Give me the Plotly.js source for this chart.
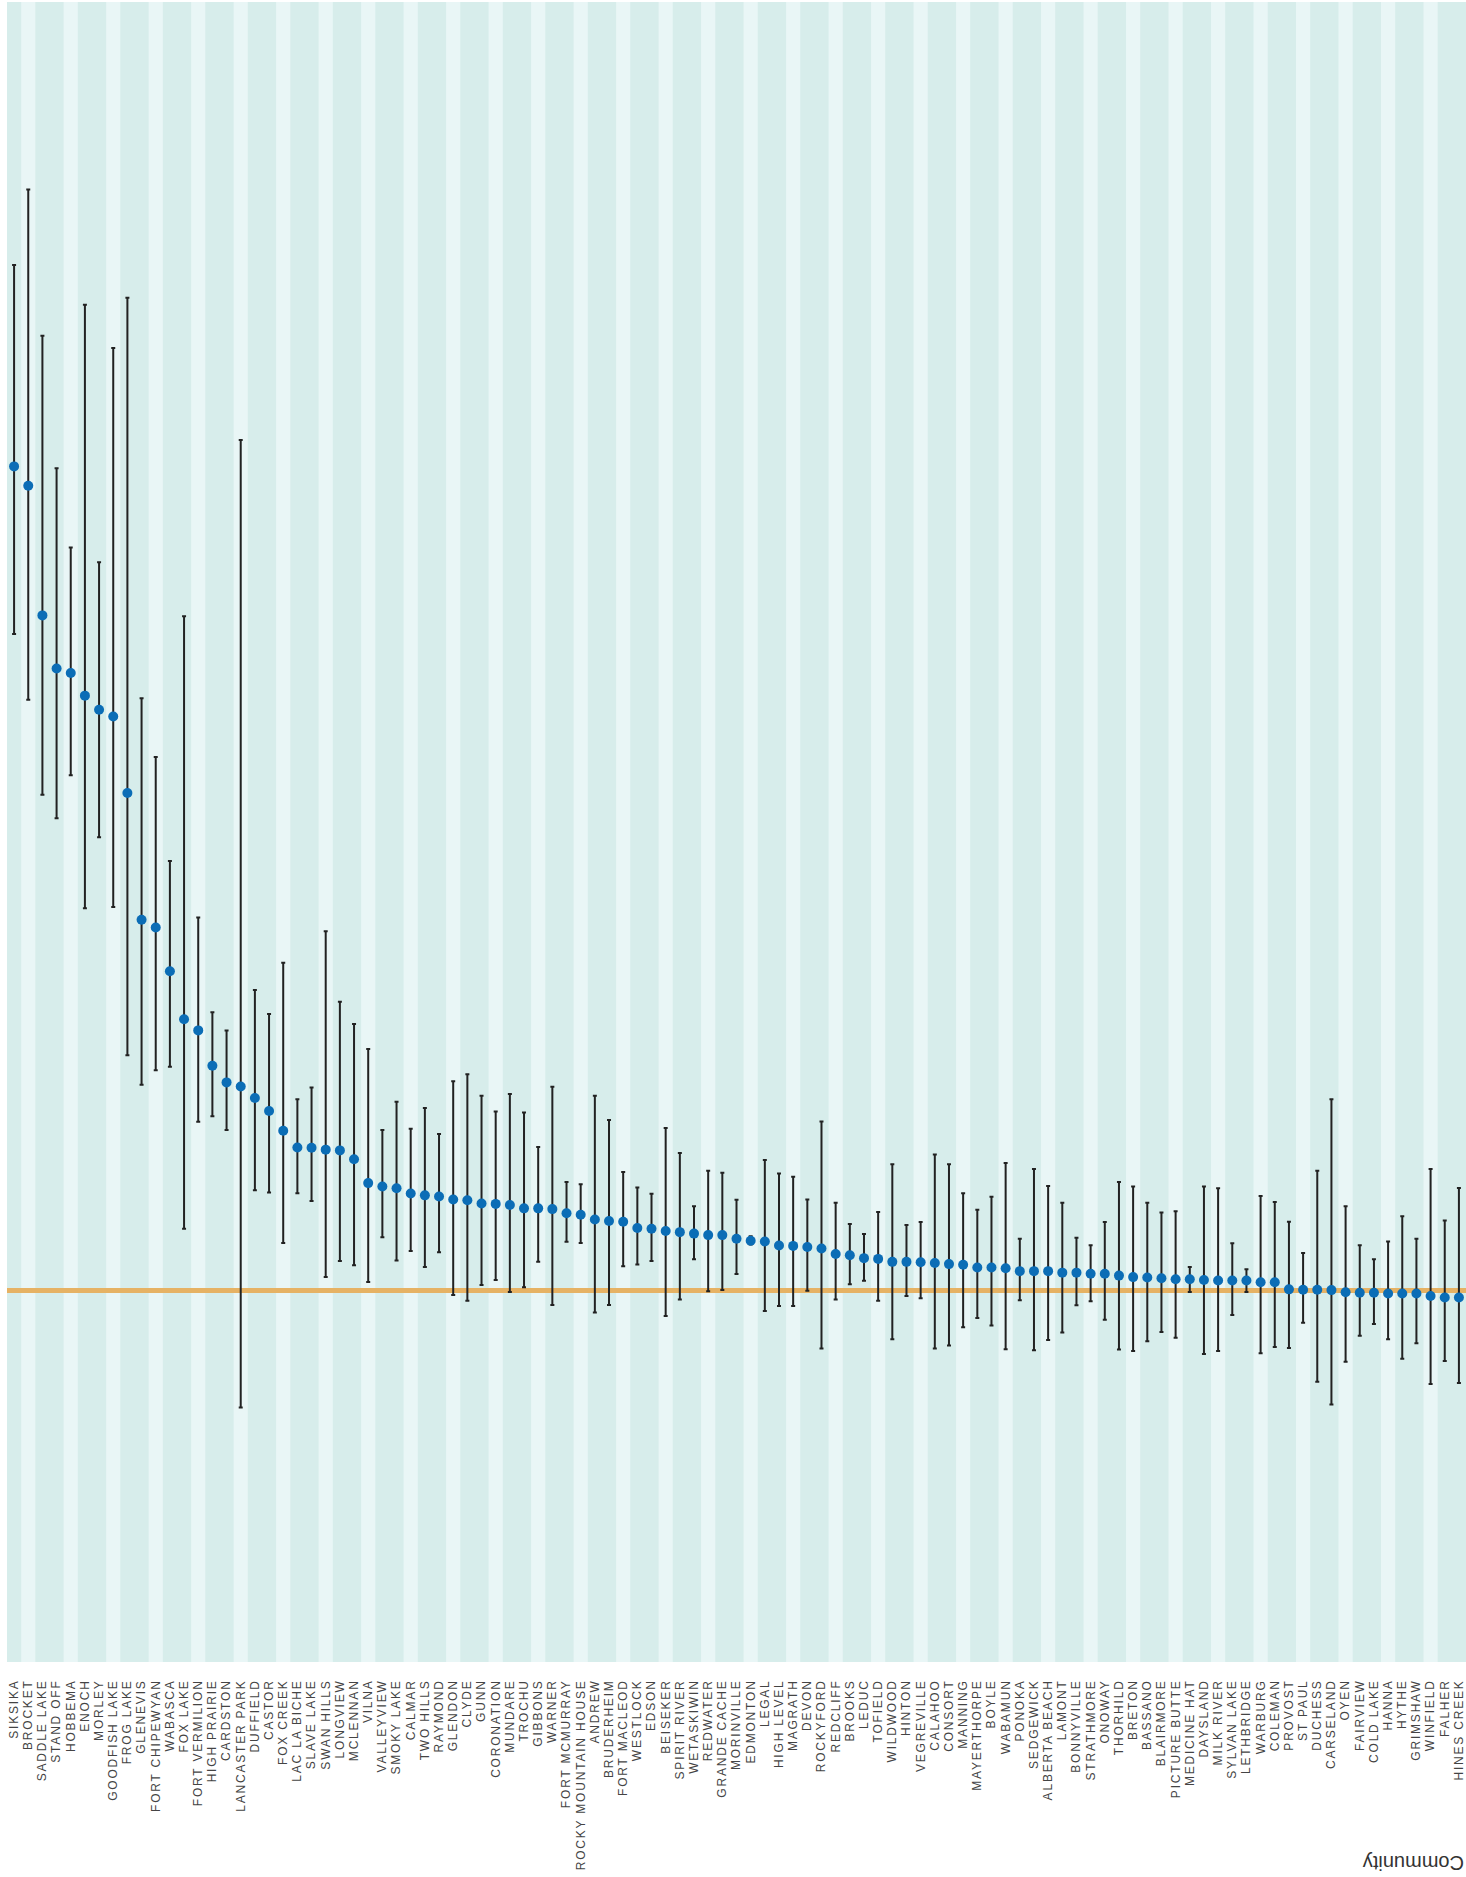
<!DOCTYPE html>
<html>
<head>
<meta charset="utf-8">
<script src="https://cdn.plot.ly/plotly-3.0.1.min.js"></script>
<style>
  html, body { margin: 0; padding: 0; background: #ffffff; }
  #chart { width: 1466px; height: 1877px; }
  .xtick text { letter-spacing: 1.8px; }
</style>
</head>
<body>
<div id="chart"></div>
<script>
// ---- data ----
const communities = [
  "SIKSIKA","BROCKET","SADDLE LAKE","STAND OFF","HOBBEMA","ENOCH","MORLEY","GOODFISH LAKE","FROG LAKE","GLENEVIS",
  "FORT CHIPEWYAN","WABASCA","FOX LAKE","FORT VERMILION","HIGH PRAIRIE","CARDSTON","LANCASTER PARK","DUFFIELD","CASTOR","FOX CREEK",
  "LAC LA BICHE","SLAVE LAKE","SWAN HILLS","LONGVIEW","MCLENNAN","VILNA","VALLEYVIEW","SMOKY LAKE","CALMAR","TWO HILLS",
  "RAYMOND","GLENDON","CLYDE","GUNN","CORONATION","MUNDARE","TROCHU","GIBBONS","WARNER","FORT MCMURRAY",
  "ROCKY MOUNTAIN HOUSE","ANDREW","BRUDERHEIM","FORT MACLEOD","WESTLOCK","EDSON","BEISEKER","SPIRIT RIVER","WETASKIWIN","REDWATER",
  "GRANDE CACHE","MORINVILLE","EDMONTON","LEGAL","HIGH LEVEL","MAGRATH","DEVON","ROCKYFORD","REDCLIFF","BROOKS",
  "LEDUC","TOFIELD","WILDWOOD","HINTON","VEGREVILLE","CALAHOO","CONSORT","MANNING","MAYERTHORPE","BOYLE",
  "WABAMUN","PONOKA","SEDGEWICK","ALBERTA BEACH","LAMONT","BONNYVILLE","STRATHMORE","ONOWAY","THORHILD","BRETON",
  "BASSANO","BLAIRMORE","PICTURE BUTTE","MEDICINE HAT","DAYSLAND","MILK RIVER","SYLVAN LAKE","LETHBRIDGE","WARBURG","COLEMAN",
  "PROVOST","ST PAUL","DUCHESS","CARSELAND","OYEN","FAIRVIEW","COLD LAKE","HANNA","HYTHE","GRIMSHAW",
  "WINFIELD","FALHER","HINES CREEK"
];

const estimate = [
  3.218,3.166,2.817,2.674,2.662,2.601,2.563,2.545,2.339,1.998,
  1.977,1.859,1.730,1.700,1.605,1.560,1.549,1.518,1.483,1.430,
  1.385,1.384,1.379,1.377,1.353,1.289,1.280,1.275,1.261,1.256,
  1.253,1.245,1.243,1.234,1.233,1.230,1.221,1.221,1.219,1.208,
  1.204,1.191,1.187,1.185,1.168,1.166,1.160,1.157,1.153,1.149,
  1.149,1.139,1.134,1.132,1.121,1.120,1.117,1.113,1.098,1.095,
  1.087,1.085,1.077,1.077,1.076,1.074,1.071,1.069,1.062,1.062,
  1.060,1.052,1.052,1.052,1.048,1.048,1.045,1.045,1.040,1.036,
  1.035,1.033,1.030,1.030,1.028,1.027,1.027,1.027,1.022,1.022,
  1.003,1.002,1.002,1.001,0.995,0.994,0.994,0.992,0.992,0.992,
  0.985,0.981,0.981
];

const upperCI = [
  3.760,3.963,3.570,3.213,3.000,3.653,2.960,3.537,3.672,2.594,
  2.436,2.156,2.815,2.004,1.749,1.700,3.289,1.809,1.744,1.882,
  1.515,1.546,1.967,1.777,1.717,1.650,1.432,1.508,1.435,1.491,
  1.421,1.563,1.582,1.524,1.482,1.529,1.479,1.386,1.548,1.292,
  1.286,1.524,1.459,1.319,1.277,1.260,1.437,1.370,1.227,1.322,
  1.317,1.244,1.146,1.351,1.315,1.306,1.245,1.455,1.236,1.179,
  1.152,1.211,1.340,1.176,1.184,1.366,1.340,1.262,1.217,1.252,
  1.343,1.139,1.327,1.281,1.236,1.142,1.122,1.184,1.292,1.280,
  1.236,1.210,1.213,1.063,1.280,1.275,1.127,1.057,1.254,1.238,
  1.185,1.101,1.322,1.515,1.227,1.122,1.084,1.132,1.200,1.139,
  1.327,1.188,1.276
];

const lowerCI = [
  2.767,2.590,2.334,2.271,2.387,2.029,2.220,2.032,1.633,1.554,
  1.593,1.602,1.166,1.454,1.469,1.432,0.685,1.270,1.264,1.128,
  1.262,1.241,1.036,1.079,1.068,1.023,1.143,1.081,1.106,1.063,
  1.103,0.988,0.972,1.015,1.028,0.996,1.009,1.077,0.961,1.131,
  1.128,0.941,0.961,1.065,1.070,1.079,0.931,0.976,1.084,0.998,
  1.001,1.044,1.124,0.945,0.958,0.958,0.999,0.844,0.976,1.017,
  1.026,0.972,0.869,0.985,0.979,0.844,0.852,0.901,0.926,0.906,
  0.842,0.974,0.839,0.867,0.887,0.960,0.971,0.921,0.841,0.837,
  0.863,0.888,0.873,0.996,0.829,0.837,0.934,0.996,0.831,0.848,
  0.845,0.913,0.754,0.693,0.808,0.878,0.910,0.869,0.816,0.858,
  0.748,0.810,0.751
];

const referenceValue = 1;
const xTitle = "Community";

// ---- styles ----
const bandDark = "#d7edeb";
const bandLight = "#e9f6f6";
const markerColor = "#0b6db6";
const refColor = "#e6b264";

const errPlus = upperCI.map((u, i) => u - estimate[i]);
const errMinus = lowerCI.map((l, i) => estimate[i] - l);

const trace = {
  type: "scatter",
  mode: "markers",
  x: communities,
  y: estimate,
  marker: { color: markerColor, size: 10 },
  error_y: {
    type: "data",
    symmetric: false,
    array: errPlus,
    arrayminus: errMinus,
    color: "#222222",
    thickness: 2,
    width: 2
  },
  hoverinfo: "x+y",
  showlegend: false
};

const shapes = [];
communities.forEach((c, i) => {
  if (i % 3 === 1) {
    shapes.push({
      type: "rect", layer: "below",
      xref: "x", yref: "paper",
      x0: i - 0.5, x1: i + 0.5, y0: 0, y1: 1,
      fillcolor: bandLight, line: { width: 0 }
    });
  }
});
shapes.push({
  type: "line", layer: "below",
  xref: "paper", yref: "y",
  x0: 0, x1: 1, y0: referenceValue, y1: referenceValue,
  line: { color: refColor, width: 5 }
});

const layout = {
  width: 1466,
  height: 1877,
  margin: { l: 7, r: 0, t: 2, b: 215, pad: 0 },
  paper_bgcolor: "#ffffff",
  plot_bgcolor: bandDark,
  showlegend: false,
  xaxis: {
    type: "category",
    range: [-0.5, communities.length - 0.5],
    tickangle: -90,
    showgrid: false,
    zeroline: false,
    showline: false,
    ticks: "",
    ticklabelstandoff: 14,
    tickfont: { family: "Liberation Sans, Arial, sans-serif", size: 12, color: "#444444" },
    automargin: false,
    fixedrange: true
  },
  yaxis: {
    range: [0, 4.468],
    showgrid: false,
    zeroline: false,
    showline: false,
    showticklabels: false,
    ticks: "",
    automargin: false,
    fixedrange: true
  },
  shapes: shapes,
  annotations: [{
    text: xTitle,
    xref: "paper", yref: "paper",
    x: 1, y: -0.121,
    xanchor: "right", yanchor: "middle",
    textangle: 180,
    showarrow: false,
    font: { family: "Liberation Sans, Arial, sans-serif", size: 20, color: "#333333" }
  }]
};

Plotly.newPlot("chart", [trace], layout, { displayModeBar: false, staticPlot: true });
</script>
</body>
</html>
